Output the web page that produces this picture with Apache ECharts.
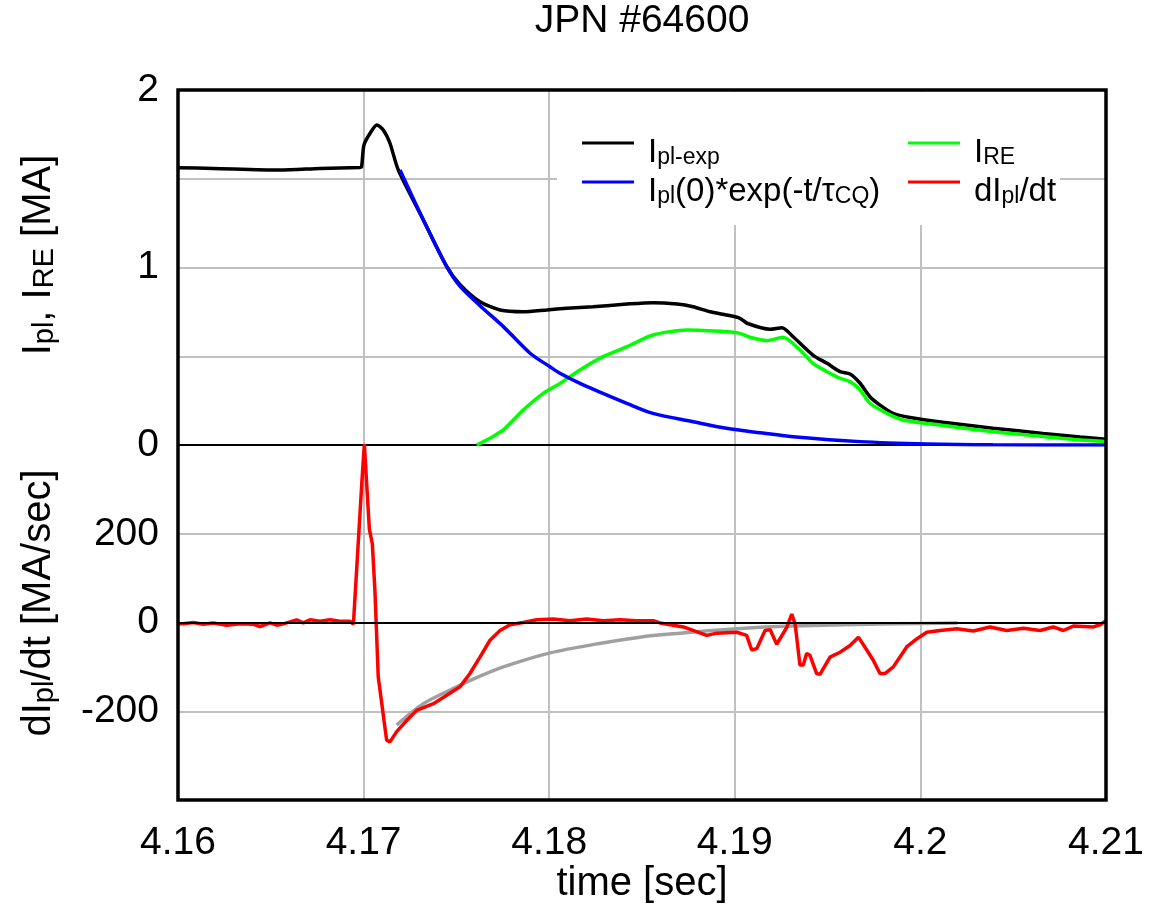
<!DOCTYPE html>
<html><head><meta charset="utf-8">
<script src="https://cdn.jsdelivr.net/npm/echarts@6/dist/echarts.min.js"></script>
<style>html,body{margin:0;padding:0;background:#fff}#c{width:1157px;height:910px}</style>
</head><body><div id="c"></div>
<script>
// ---- data ----
const xTicks = [4.16, 4.17, 4.18, 4.19, 4.20, 4.21];
const topTicks = [0, 1, 2];
const botTicks = [-200, 0, 200];

const tBlack = [4.16000,4.16189,4.16550,4.16765,4.16981,4.16989,4.17002,4.17035,4.17071,4.17106,4.17142,4.17187,
  4.17322,4.17448,4.17519,4.17627,4.17735,4.17861,4.17987,4.18095,4.18236,4.18419,4.18559,4.18689,4.18775,4.18866,
  4.18958,4.19028,4.19066,4.19190,4.19254,4.19314,4.19421,4.19497,4.19567,4.19621,4.19675,4.19728,4.19782,4.19852,
  4.19944,4.20122,4.20391,4.20661,4.20860,4.21000];
const iBlack = [1.562,1.558,1.549,1.558,1.564,1.566,1.690,1.756,1.803,1.775,1.700,1.549,
  1.268,1.005,0.905,0.807,0.761,0.751,0.761,0.770,0.779,0.794,0.802,0.794,0.779,0.751,
  0.732,0.714,0.686,0.652,0.661,0.610,0.507,0.460,0.413,0.400,0.348,0.272,0.225,0.178,
  0.155,0.128,0.095,0.065,0.045,0.033];

const tBlue = [4.17196,4.17322,4.17448,4.17519,4.17627,4.17753,4.17897,4.18004,4.18058,4.18166,4.18290,4.18418,
  4.18559,4.18775,4.18955,4.19136,4.19314,4.19675,4.20034,4.20391,4.21000];
const iBlue = [1.549,1.268,1.005,0.895,0.785,0.667,0.517,0.441,0.404,0.347,0.291,0.235,
  0.178,0.131,0.094,0.069,0.047,0.019,0.006,0.001,0.000];

const tGreen = [4.17609,4.17681,4.17753,4.17860,4.17968,4.18058,4.18166,4.18290,4.18419,4.18559,4.18742,4.18958,
  4.19028,4.19082,4.19174,4.19260,4.19351,4.19421,4.19497,4.19567,4.19621,4.19675,4.19728,4.19820,4.19906,
  4.20122,4.20391,4.20661,4.20860,4.21000];
const iGreen = [0.000,0.038,0.085,0.197,0.291,0.347,0.423,0.498,0.554,0.620,0.648,0.638,
  0.629,0.607,0.588,0.607,0.535,0.460,0.413,0.376,0.357,0.310,0.235,0.178,0.141,
  0.110,0.075,0.048,0.028,0.020];

const tRed = [4.16000,4.16029,4.16082,4.16136,4.16190,4.16262,4.16334,4.16406,4.16442,4.16496,4.16532,4.16567,
  4.16639,4.16675,4.16711,4.16765,4.16819,4.16873,4.16927,4.16945,4.16954,4.16990,4.17004,4.17013,4.17031,
  4.17047,4.17061,4.17079,4.17124,4.17142,4.17178,4.17223,4.17286,4.17376,4.17448,4.17519,4.17573,4.17627,
  4.17681,4.17735,4.17789,4.17859,4.17933,4.18022,4.18112,4.18202,4.18292,4.18381,4.18471,4.18561,4.18597,
  4.18723,4.18849,4.18903,4.19011,4.19064,4.19091,4.19118,4.19163,4.19190,4.19226,4.19280,4.19307,4.19325,
  4.19351,4.19369,4.19387,4.19405,4.19441,4.19459,4.19513,4.19567,4.19621,4.19666,4.19711,4.19746,4.19782,
  4.19809,4.19854,4.19926,4.19980,4.20034,4.20106,4.20196,4.20285,4.20375,4.20465,4.20555,4.20644,4.20716,
  4.20770,4.20824,4.20932,4.20968,4.21000];
const dRed = [-3,-3,0,-4,-1,-6,-3,-4,-9,-1,-6,-3,
  6,-1,6,3,6,3,3,-4,0,312,402,398,211,
  177,72,-123,-265,-269,-246,-225,-198,-183,-164,-145,-115,-78,
  -40,-18,-5,0,6,8,4,8,4,6,4,4,-1,
  -10,-29,-24,-22,-29,-62,-59,-18,-16,-49,-11,19,-3,
  -96,-96,-70,-74,-115,-117,-78,-67,-52,-33,-62,-85,-115,
  -115,-100,-55,-37,-22,-18,-14,-19,-10,-18,-13,-18,-10,
  -18,-8,-10,-5,4];

const tGray = [4.17178,4.17322,4.17502,4.17627,4.17753,4.18000,4.18287,4.18489,4.18650,4.19011,4.19307,4.19865,4.20200];
const dGray = [-231,-183,-145,-121,-100,-69,-46,-33,-26,-14,-8,-3,-1];

// ---- helpers ----
const zip = (a, b) => a.map((v, i) => [v, b[i]]);
const FONT = "'Liberation Sans', Arial, Helvetica, sans-serif";

const legRich = {
  h: {fontFamily: FONT, fontSize: 33, lineHeight: 52, verticalAlign: 'bottom', color: '#000'},
  n: {fontFamily: FONT, fontSize: 33, lineHeight: 33, verticalAlign: 'bottom', color: '#000'},
  s: {fontFamily: FONT, fontSize: 23, lineHeight: 18, verticalAlign: 'bottom', color: '#000'}
};
const nameRich = {
  n: {fontFamily: FONT, fontSize: 40, lineHeight: 40, verticalAlign: 'bottom', color: '#000'},
  s: {fontFamily: FONT, fontSize: 29, lineHeight: 24, verticalAlign: 'bottom', color: '#000'}
};
const legendLabels = {
  'Ipl-exp': '{h|\u200b}{n|I}{s|pl-exp}',
  'Ipl0exp': '{h|\u200b}{n|I}{s|pl}{n|(0)*exp(-t/\u03c4}{s|CQ}{n|)}',
  'IRE': '{h|\u200b}{n|I}{s|RE}',
  'dIpl': '{h|\u200b}{n|dI}{s|pl}{n|/dt}'
};

const gridLine = {show: true, showMinLine: false, showMaxLine: false, lineStyle: {color: '#c0c0c0', width: 2}};
const tickLabel = {fontFamily: FONT, fontSize: 39, color: '#000'};
const LW = 3.5;

const chart = echarts.init(document.getElementById('c'), null, {renderer: 'canvas'});
const legendBase = {
  orient: 'vertical', top: 136, padding: 0, itemGap: 6, itemWidth: 52, itemHeight: 3,
  icon: 'rect', selectedMode: false, z: 6,
  formatter: n => legendLabels[n],
  textStyle: {padding: [0, 0, 0, 9], rich: legRich}
};

chart.setOption({
  animation: false,
  backgroundColor: '#fff',
  title: {
    text: 'JPN #64600', left: 642, top: 2, textAlign: 'center', padding: 0,
    textStyle: {fontFamily: FONT, fontSize: 39, fontWeight: 'normal', color: '#000'}
  },
  grid: [
    {left: 178, right: 51, top: 90, height: 355, outerBoundsMode: 'none', containLabel: false},
    {left: 178, right: 51, top: 445, height: 355, outerBoundsMode: 'none', containLabel: false},
    {left: 178, right: 51, top: 90, height: 710, outerBoundsMode: 'none', containLabel: false,
     show: true, borderColor: '#000', borderWidth: 3.5, backgroundColor: 'transparent', z: 10}
  ],
  graphic: [{
    type: 'rect', left: 557, top: 92, z: 3, silent: true,
    shape: {width: 503, height: 133}, style: {fill: '#fff'}
  }],
  legend: [
    Object.assign({}, legendBase, {left: 582, data: ['Ipl-exp', 'Ipl0exp']}),
    Object.assign({}, legendBase, {left: 908, data: ['IRE', 'dIpl']})
  ],
  xAxis: [
    {type: 'value', gridIndex: 0, min: xTicks[0], max: xTicks[xTicks.length - 1], interval: 0.01,
     axisLine: {show: true, onZero: false, lineStyle: {color: '#000', width: 2}},
     axisTick: {show: false}, axisLabel: {show: false}, splitLine: gridLine},
    {type: 'value', gridIndex: 1, min: xTicks[0], max: xTicks[xTicks.length - 1], interval: 0.01,
     axisLine: {show: false}, axisTick: {show: false}, splitLine: gridLine,
     axisLabel: Object.assign({margin: 24, formatter: v => String(+v.toFixed(2)),
       showMinLabel: true, showMaxLabel: true}, tickLabel),
     name: 'time [sec]', nameLocation: 'middle', nameGap: 63,
     nameTextStyle: {fontFamily: FONT, fontSize: 40, color: '#000'}}
  ],
  yAxis: [
    {type: 'value', gridIndex: 0, min: 0, max: 2, interval: 0.5,
     axisLine: {show: false}, axisTick: {show: false}, splitLine: gridLine,
     axisLabel: Object.assign({margin: 19, formatter: v => (topTicks.includes(v) ? String(v) : '')}, tickLabel),
     name: '{n|I}{s|pl}{n|, I}{s|RE}{n| [MA]}', nameLocation: 'middle', nameRotate: 90, nameGap: 119,
     nameTextStyle: {padding: [0, 0, 0, 25], rich: nameRich}},
    {type: 'value', gridIndex: 1, min: -400, max: 400, interval: 200,
     axisLine: {show: false}, axisTick: {show: false}, splitLine: gridLine,
     axisLabel: Object.assign({margin: 19, formatter: v => (botTicks.includes(v) ? String(v) : '')}, tickLabel),
     name: '{n|dI}{s|pl}{n|/dt [MA/sec]}', nameLocation: 'middle', nameRotate: 90, nameGap: 119,
     nameTextStyle: {padding: [0, 0, 0, 39], rich: nameRich}}
  ],
  series: [
    {name: 'Ipl-exp', type: 'line', xAxisIndex: 0, yAxisIndex: 0, data: zip(tBlack, iBlack),
     showSymbol: false, smooth: 0.25, color: '#000', lineStyle: {color: '#000', width: LW}, z: 2},
    {name: 'IRE', type: 'line', xAxisIndex: 0, yAxisIndex: 0, data: zip(tGreen, iGreen),
     showSymbol: false, smooth: 0.25, color: '#00ff00', lineStyle: {color: '#00ff00', width: LW}, z: 3},
    {name: 'Ipl0exp', type: 'line', xAxisIndex: 0, yAxisIndex: 0, data: zip(tBlue, iBlue),
     showSymbol: false, smooth: 0.3, color: '#0000ff', lineStyle: {color: '#0000ff', width: LW}, z: 4},
    {name: 'fit', type: 'line', xAxisIndex: 1, yAxisIndex: 1, data: zip(tGray, dGray),
     showSymbol: false, smooth: 0.3, color: '#a0a0a0', lineStyle: {color: '#a0a0a0', width: LW}, z: 2},
    {name: 'dIpl', type: 'line', xAxisIndex: 1, yAxisIndex: 1, data: zip(tRed, dRed),
     showSymbol: false, smooth: false, color: '#ff0000', lineStyle: {color: '#ff0000', width: LW}, z: 3,
     markLine: {silent: true, symbol: 'none', label: {show: false}, animation: false,
       lineStyle: {color: '#000', width: 2, type: 'solid'}, emphasis: {disabled: true},
       data: [{yAxis: 0}]}}
  ]
});
</script></body></html>
